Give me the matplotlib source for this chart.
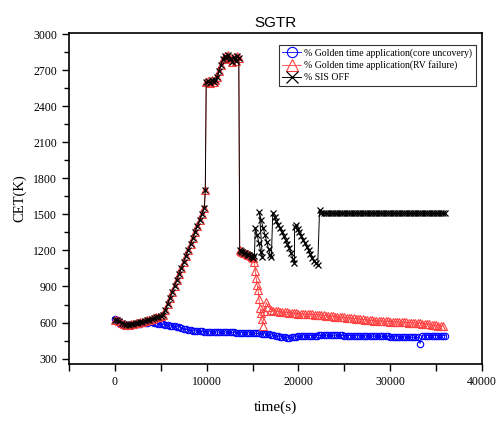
import numpy as np
import matplotlib
matplotlib.use("Agg")
import matplotlib.pyplot as plt
from matplotlib.ticker import MultipleLocator

# ---- data (time in s, CET in K) ----

# core uncovery case, sampled every 250 s from t = 0
blue_cet = [630, 618, 600, 585, 578, 577, 578, 580, 583, 586,
            589, 592, 595, 598, 600, 602, 603, 600, 596, 592,
            588, 585, 582, 578, 574, 571, 569, 567, 563, 557,
            550, 544, 538, 535, 533, 531, 529, 527, 526, 525,
            524, 523, 523, 522, 522, 521, 521, 520, 520, 519,
            519, 518, 518, 517, 517, 516, 516, 515, 514, 513,
            512, 511, 510, 509, 508, 507, 505, 502, 499, 495,
            491, 487, 483, 479, 476, 474, 474, 476, 479, 482,
            485, 487, 488, 489, 490, 491, 491, 492, 492, 493,
            493, 493, 494, 494, 494, 494, 494, 493, 493, 493,
            492, 492, 492, 491, 491, 491, 490, 490, 489, 489,
            488, 488, 487, 487, 486, 486, 485, 485, 484, 484,
            483, 483, 482, 482, 481, 480, 480, 479, 478, 478,
            477, 477, 476, 425, 490, 491, 492, 492, 492, 492,
            492, 492, 492, 492, 492]
blue_t = np.arange(0, 250 * len(blue_cet), 250)

# common part of RV failure and SIS OFF (same curve up to ~15000 s)
rise_cet = [625, 622, 612, 595, 585, 580, 582, 585, 590, 594,
            598, 603, 608, 613, 618, 624, 630, 638, 645, 650,
            655, 665, 705, 755, 805, 855, 905, 955, 1005, 1055,
            1105, 1155, 1205, 1255, 1305, 1355, 1405, 1455, 1505, 1555]
rise_t = np.arange(0, 250 * len(rise_cet), 250)

peak_t = [9850, 9950, 10150, 10350, 10550, 10750, 10950, 11150, 11350, 11550,
          11750, 11950, 12150, 12350, 12550, 12750, 12950, 13150, 13350, 13500,
          13600, 13750, 13900, 14050, 14200, 14350, 14500, 14650, 14800, 14950,
          15100]
peak_cet = [1700, 2600, 2610, 2595, 2620, 2605, 2615, 2640, 2690, 2740,
            2790, 2820, 2800, 2825, 2790, 2770, 2810, 2780, 2815, 2800,
            1200, 1195, 1185, 1180, 1175, 1170, 1165, 1160, 1150, 1145,
            1140]

# RV failure after the drop
red_drop_t = [15200, 15300, 15400, 15500, 15600, 15700, 15800, 15900, 16000,
              16100, 16300, 16500, 16700]
red_drop_cet = [1100, 1030, 970, 910, 867, 800, 725, 683, 630,
                575, 700, 767, 730]
red_band_cet = [705, 700, 697, 694, 690, 688, 686, 684, 682, 680,
                678, 676, 674, 672, 671, 670, 669, 668, 667, 666,
                665, 664, 662, 660, 658, 656, 654, 652, 650, 648,
                646, 644, 642, 640, 638, 636, 634, 632, 630, 628,
                626, 624, 622, 620, 618, 616, 614, 613, 612, 611,
                610, 609, 608, 607, 606, 605, 604, 603, 602, 601,
                600, 599, 598, 597, 596, 594, 592, 590, 588, 585,
                582, 579, 576, 573, 570, 575]
red_band_t = np.arange(17000, 17000 + 250 * len(red_band_cet), 250)

# SIS OFF after the drop (oscillating part)
black_zz_t = [15200, 15300, 15500, 15700, 15900, 16070,
              15750, 15950, 16150, 16350, 16550, 16750, 16950, 17050,
              17200, 17400, 17600, 17800, 18000, 18200, 18400, 18600,
              18800, 19000, 19200, 19400, 19560,
              19580, 19700, 19900, 20100, 20300, 20500, 20700, 20900,
              21100, 21300, 21500, 21700, 21900, 22100, 22300]
black_zz_cet = [1150, 1390, 1330, 1260, 1190, 1142,
                1517, 1450, 1390, 1330, 1270, 1210, 1160, 1142,
                1508, 1475, 1445, 1415, 1385, 1355, 1320, 1290,
                1255, 1220, 1180, 1130, 1092,
                1392, 1408, 1380, 1350, 1320, 1290, 1260, 1230,
                1200, 1170, 1140, 1115, 1095, 1075, 1533]
black_band_cet = [1508, 1508, 1508, 1508, 1508, 1508, 1508, 1508, 1508, 1508,
                  1508, 1508, 1508, 1508, 1508, 1508, 1508, 1508, 1508, 1508,
                  1508, 1508, 1508, 1508, 1508, 1508, 1508, 1508, 1508, 1508,
                  1508, 1508, 1508, 1508, 1508, 1508, 1508, 1508, 1508, 1508,
                  1508, 1508, 1508, 1508, 1508, 1508, 1508, 1508, 1508, 1508,
                  1508, 1508, 1508, 1508, 1508]
black_band_t = np.arange(22500, 22500 + 250 * len(black_band_cet), 250)

red_t = np.concatenate([rise_t, peak_t, red_drop_t, red_band_t])
red_cet = np.concatenate([rise_cet, peak_cet, red_drop_cet, red_band_cet])
black_t = np.concatenate([rise_t, peak_t, black_zz_t, black_band_t])
black_cet = np.concatenate([rise_cet, peak_cet, black_zz_cet, black_band_cet])

labels = ['% Golden time application(core uncovery)',
          '% Golden time application(RV failure)',
          '% SIS OFF']

# ---- plot ----
serif = ['Liberation Serif', 'DejaVu Serif']

fig = plt.figure(figsize=(5.0, 4.23), dpi=100)
ax = fig.add_axes([0.138, 0.1395, 0.826, 0.7825])

ax.plot(blue_t, blue_cet, color='#0000ff', lw=0.6, marker='o', ms=4.6,
        mfc='none', mew=0.8, label=labels[0])
ax.plot(red_t, red_cet, color='#ff4040', lw=0.6, marker='^', ms=5.2,
        mfc='none', mew=0.8, label=labels[1])
ax.plot(black_t, black_cet, color='black', lw=0.7, marker='x', ms=5,
        mew=0.9, label=labels[2])

ax.set_xlim(-5000, 40000)
ax.set_ylim(255, 3010)
ax.xaxis.set_major_locator(MultipleLocator(10000))
ax.xaxis.set_minor_locator(MultipleLocator(5000))
ax.yaxis.set_major_locator(MultipleLocator(300))
ax.yaxis.set_minor_locator(MultipleLocator(150))
ax.tick_params(which='major', direction='out', length=5, width=1,
               top=False, right=False, labelsize=8.5)
ax.tick_params(which='minor', direction='out', length=3.5, width=1,
               top=False, right=False)
ax.tick_params(axis='x', which='minor', length=5)
for lab in ax.get_xticklabels() + ax.get_yticklabels():
    lab.set_family(serif)
for s in ax.spines.values():
    s.set_linewidth(1.2)

ax.set_xlabel('time(s)', family=serif, fontsize=11, labelpad=9)
ax.set_ylabel('CET(K)', family=serif, fontsize=10.5, labelpad=5)
ax.set_title('SGTR', family=['Liberation Sans', 'DejaVu Sans'],
             fontsize=11, pad=4)

leg = ax.legend(loc='upper right', bbox_to_anchor=(0.985, 0.965),
                prop={'family': serif, 'size': 7}, frameon=True,
                fancybox=False, edgecolor='black', handlelength=2.0,
                handletextpad=0.3, borderpad=0.35, labelspacing=0.3,
                markerscale=1.6, borderaxespad=0)
leg.get_frame().set_linewidth(0.8)

fig.savefig('out.png', dpi=100)
